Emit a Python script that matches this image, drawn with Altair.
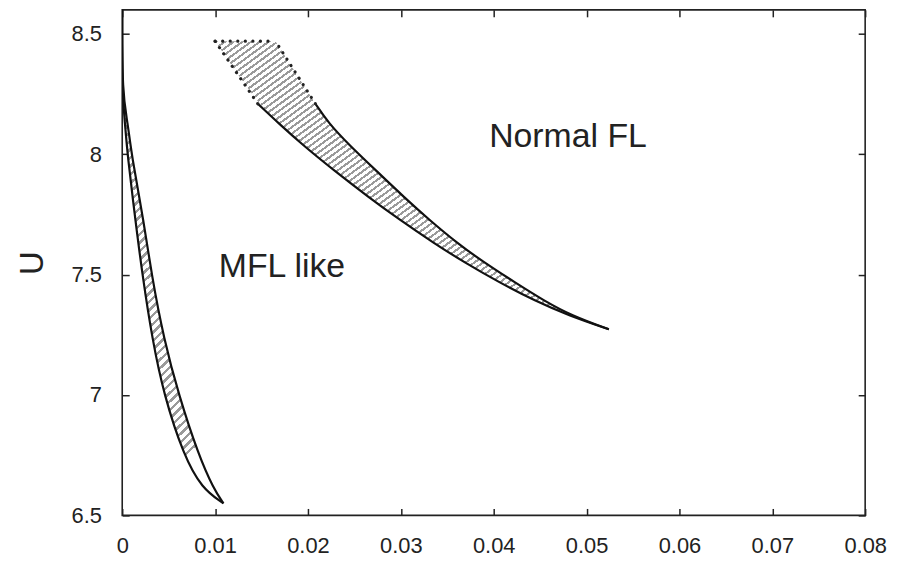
import altair as alt
import pandas as pd

FONT = "Liberation Sans"

# ---- data ----
# left (MFL) band: two boundary curves, x as a function of U
left_U = [8.6, 8.25, 8.13, 8.0, 7.714, 7.5, 7.231, 7.0, 6.749, 6.612, 6.55]
left_outer_x = [0.0, 0.0, 0.0003, 0.00056, 0.00146, 0.00217, 0.00324, 0.00449, 0.00662, 0.00858, 0.0109]
left_inner_x = [0.0, 0.0, 0.0006, 0.00099, 0.00235, 0.00316, 0.00449, 0.00609, 0.00823, 0.00983, 0.0109]

# upper (Normal FL) band
up_U = [7.273, 7.33, 7.39, 7.47, 7.55, 7.63, 7.73, 7.82, 7.93, 8.04, 8.13, 8.21, 8.47]
up_lower_x = [0.0524, 0.0481, 0.0445, 0.0405, 0.0369, 0.0336, 0.0298, 0.0266, 0.0229, 0.0194, 0.0168, 0.0146, 0.0100]
up_upper_x = [0.0524, 0.0484, 0.0455, 0.0422, 0.0390, 0.0361, 0.0330, 0.0304, 0.0274, 0.0244, 0.0222, 0.0208, 0.0165]

label_text = ["MFL like", "Normal FL"]
label_x = [0.0172, 0.0480]
label_U = [7.53, 8.07]

x_ticks = [0, 0.01, 0.02, 0.03, 0.04, 0.05, 0.06, 0.07, 0.08]
y_ticks = [6.5, 7, 7.5, 8, 8.5]

# ---- tables ----
left_band = pd.DataFrame({"U": left_U, "xl": left_outer_x, "xr": left_inner_x})
up_band = pd.DataFrame({"U": up_U, "xl": up_lower_x, "xr": up_upper_x})

left_lines = pd.concat([
    pd.DataFrame({"U": left_U, "x": left_outer_x, "curve": "outer"}),
    pd.DataFrame({"U": left_U, "x": left_inner_x, "curve": "inner"}),
])
n_solid = len(up_U) - 1
up_lines = pd.concat([
    pd.DataFrame({"U": up_U[:n_solid], "x": up_lower_x[:n_solid], "curve": "lower"}),
    pd.DataFrame({"U": up_U[:n_solid], "x": up_upper_x[:n_solid], "curve": "upper"}),
])
dotted = pd.concat([
    pd.DataFrame({"U": up_U[-2:], "x": up_lower_x[-2:], "curve": "dl"}),
    pd.DataFrame({"U": up_U[-2:], "x": up_upper_x[-2:], "curve": "dr"}),
    pd.DataFrame({"U": [up_U[-1], up_U[-1]], "x": [up_lower_x[-1], up_upper_x[-1]], "curve": "dt"}),
])
labels = pd.DataFrame({"text": label_text, "x": label_x, "U": label_U})

W, H = 748, 509
xs = alt.Scale(domain=[0, 0.08], nice=False, zero=False)
ys = alt.Scale(domain=[6.5, 8.6], nice=False, zero=False)


def stripes(n, c1="#9a9a9a", c2="#ffffff", frac=0.4, x2=1, y2=1):
    stops = []
    for i in range(n):
        a = i / n
        b = (i + frac) / n
        stops += [alt.GradientStop(color=c1, offset=a), alt.GradientStop(color=c1, offset=b),
                  alt.GradientStop(color=c2, offset=b), alt.GradientStop(color=c2, offset=(i + 1) / n)]
    return alt.LinearGradient(gradient="linear", stops=stops, x1=0, y1=0, x2=x2, y2=y2)


main_x_axis = alt.Axis(orient="bottom", values=x_ticks, format=".2~f", offset=-7, tickSize=7,
                       domain=False, grid=False, labelPadding=20, labelFontSize=22, labelFont=FONT,
                       labelColor="#222", tickColor="#222", tickWidth=1.5, title=None,
                       labelFlush=False, labelOverlap=False)
main_y_axis = alt.Axis(orient="left", values=y_ticks, format=".1~f", offset=-7, tickSize=7,
                       domain=False, grid=False, labelPadding=21, labelFontSize=22, labelFont=FONT,
                       labelColor="#222", tickColor="#222", tickWidth=1.5, title="U",
                       titleFont=FONT, titleFontSize=33, titleFontWeight="normal", titleColor="#222",
                       titlePadding=22, labelOverlap=False)
top_axis = alt.Axis(orient="top", values=x_ticks, labels=False, offset=-7, tickSize=7, domain=False,
                    grid=False, tickColor="#222", tickWidth=1.5, title=None)
right_axis = alt.Axis(orient="right", values=y_ticks, labels=False, offset=-7, tickSize=7, domain=False,
                      grid=False, tickColor="#222", tickWidth=1.5, title=None)

left_area = alt.Chart(left_band).mark_area(orient="horizontal", interpolate="basis", clip=True,
                                           color=stripes(60, x2=0.2, y2=1)).encode(
    y=alt.Y("U:Q", scale=ys, axis=main_y_axis),
    x=alt.X("xl:Q", scale=xs, axis=main_x_axis),
    x2="xr:Q",
)
up_area = alt.Chart(up_band).mark_area(orient="horizontal", interpolate="basis", clip=True,
                                       color=stripes(90, x2=1, y2=1)).encode(
    y=alt.Y("U:Q", scale=ys, axis=None),
    x=alt.X("xl:Q", scale=xs, axis=None),
    x2="xr:Q",
)
solid = alt.Chart(pd.concat([left_lines, up_lines])).mark_line(
    color="#111", strokeWidth=2.2, interpolate="basis", clip=True).encode(
    x=alt.X("x:Q", scale=xs, axis=None),
    y=alt.Y("U:Q", scale=ys, axis=None),
    detail="curve:N",
    order="U:Q",
)
dots = alt.Chart(dotted).mark_line(color="#222", strokeWidth=3.2, strokeDash=[0.1, 7.5], strokeCap="round").encode(
    x=alt.X("x:Q", scale=xs, axis=None),
    y=alt.Y("U:Q", scale=ys, axis=None),
    detail="curve:N",
    order="U:Q",
)
text = alt.Chart(labels).mark_text(font=FONT, fontSize=34, color="#222").encode(
    x=alt.X("x:Q", scale=xs, axis=None),
    y=alt.Y("U:Q", scale=ys, axis=None),
    text="text:N",
)
mirror = alt.Chart(labels).mark_point(opacity=0).encode(
    x=alt.X("x:Q", scale=xs, axis=top_axis),
    y=alt.Y("U:Q", scale=ys, axis=right_axis),
)

chart = alt.layer(left_area, up_area, solid, dots, text, mirror).resolve_axis(
    x="independent", y="independent"
).properties(
    width=W, height=H,
    autosize=alt.AutoSizeParams(type="none"),
    padding={"left": 115, "top": 0, "right": 24, "bottom": 41},
).configure_view(stroke="#222", strokeWidth=1.6)

chart.save("out.html", embed_options={"renderer": "svg", "actions": False})
